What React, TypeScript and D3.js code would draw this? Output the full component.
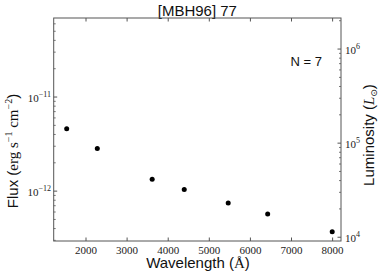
import React from "react";
import * as d3 from "d3";

const wavelengths = [1530, 2275, 3610, 4390, 5460, 6420, 7990];
const fluxes = [4.6e-12, 2.84e-12, 1.34e-12, 1.04e-12, 7.5e-13, 5.7e-13, 3.7e-13];
const xTicks = [2000, 3000, 4000, 5000, 6000, 7000, 8000];
const fluxMajor = [-12, -11];
const lumMajor = [4, 5, 6];
const title = "[MBH96] 77";
const nLabel = "N = 7";

const W = 382, H = 277;
const L = 53.7, R = 341, T = 18, B = 241;
const LUM_OFFSET = 16.49;
const fluxDomain: [number, number] = [Math.pow(10, -12.53), Math.pow(10, -10.16)];

export default function App() {
  const x = d3.scaleLinear().domain([1214, 8204]).range([L, R]);
  const yF = d3.scaleLog().domain(fluxDomain).range([B, T]);
  const yL = d3.scaleLog()
    .domain([fluxDomain[0] * Math.pow(10, LUM_OFFSET), fluxDomain[1] * Math.pow(10, LUM_OFFSET)])
    .range([B, T]);

  const minorF: number[] = [];
  for (let e = -13; e <= -10; e++) for (let m = 2; m <= 9; m++) {
    const v = m * Math.pow(10, e);
    if (v > fluxDomain[0] && v < fluxDomain[1]) minorF.push(v);
  }
  const lDom = yL.domain();
  const minorL: number[] = [];
  for (let e = 3; e <= 6; e++) for (let m = 2; m <= 9; m++) {
    const v = m * Math.pow(10, e);
    if (v > lDom[0] && v < lDom[1]) minorL.push(v);
  }
  const axisCol = "#555";
  const serif = "'Liberation Serif', 'DejaVu Serif', serif";
  const sans = "'Liberation Sans', Arial, Helvetica, sans-serif";

  return (
    <svg width={W} height={H} style={{ position: "absolute", left: 0, top: 0, background: "#fff" }}>
      <rect x={0} y={0} width={W} height={H} fill="#fff" />
      <text x={(L + R) / 2} y={15.5} textAnchor="middle" fontFamily={sans} fontSize={15} fill="#111">{title}</text>
      {/* frame */}
      <rect x={L} y={T} width={R - L} height={B - T} fill="none" stroke={axisCol} strokeWidth={1} />
      {/* x ticks */}
      {xTicks.map((t) => (
        <g key={t}>
          <line x1={x(t)} x2={x(t)} y1={B} y2={B - 3.5} stroke={axisCol} />
          <line x1={x(t)} x2={x(t)} y1={T} y2={T + 3.5} stroke={axisCol} />
          <text x={x(t)} y={253.5} textAnchor="middle" fontFamily={serif} fontSize={11} fill="#222">{t}</text>
        </g>
      ))}
      {/* left flux ticks */}
      {fluxMajor.map((e) => {
        const yy = yF(Math.pow(10, e));
        return (
          <g key={e}>
            <line x1={L} x2={L + 3.5} y1={yy} y2={yy} stroke={axisCol} />
            <text x={51} y={yy + 4.5} textAnchor="end" fontFamily={serif} fontSize={11} fill="#222">
              10<tspan fontSize={8} dy={-5}>{"\u2212" + Math.abs(e)}</tspan>
            </text>
          </g>
        );
      })}
      {minorF.map((v, i) => (
        <line key={"mf" + i} x1={L} x2={L + 2} y1={yF(v)} y2={yF(v)} stroke={axisCol} strokeWidth={0.8} />
      ))}
      {/* right luminosity ticks */}
      {lumMajor.map((e) => {
        const yy = yL(Math.pow(10, e));
        return (
          <g key={e}>
            <line x1={R} x2={R - 3.5} y1={yy} y2={yy} stroke={axisCol} />
            <text x={345} y={yy + 4.5} textAnchor="start" fontFamily={serif} fontSize={11} fill="#222">
              10<tspan fontSize={8} dy={-5}>{e}</tspan>
            </text>
          </g>
        );
      })}
      {minorL.map((v, i) => (
        <line key={"ml" + i} x1={R} x2={R - 2} y1={yL(v)} y2={yL(v)} stroke={axisCol} strokeWidth={0.8} />
      ))}
      {/* data */}
      {wavelengths.map((w, i) => (
        <circle key={i} cx={x(w)} cy={yF(fluxes[i])} r={2.5} fill="#000" />
      ))}
      <text x={322} y={66} textAnchor="end" fontFamily={sans} fontSize={13} fill="#111">{nLabel}</text>
      {/* x label */}
      <text x={198} y={268} textAnchor="middle" fontFamily={sans} fontSize={15} fill="#111">
        Wavelength (<tspan fontFamily={serif}>Å</tspan>)
      </text>
      {/* left y label */}
      <text transform="translate(18,151) rotate(-90)" textAnchor="middle" fontFamily={sans} fontSize={15} fill="#111">
        Flux (<tspan fontFamily={serif}>erg s</tspan><tspan fontFamily={serif} fontSize={10} dy={-6}>{"\u22121"}</tspan>
        <tspan fontFamily={serif} dy={6}> cm</tspan><tspan fontFamily={serif} fontSize={10} dy={-6}>{"\u22122"}</tspan><tspan dy={6}>)</tspan>
      </text>
      {/* right y label */}
      <text transform="translate(374,135) rotate(-90)" textAnchor="middle" fontFamily={sans} fontSize={15} fill="#111">
        Luminosity (<tspan fontFamily={serif} fontStyle="italic">L</tspan><tspan fontFamily={"'DejaVu Sans', sans-serif"} fontSize={9} dy={3}>{"\u2299"}</tspan><tspan dy={-3}>)</tspan>
      </text>
    </svg>
  );
}
